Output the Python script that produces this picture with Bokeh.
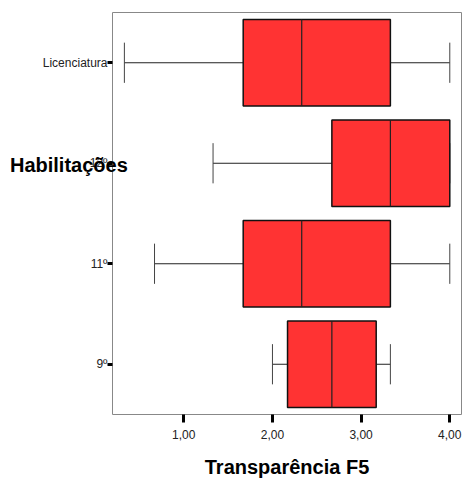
from bokeh.plotting import figure
from bokeh.models import FixedTicker, Range1d
from bokeh.embed import file_html
from bokeh.resources import INLINE

categories = ["9º", "11º", "12º", "Licenciatura"]
lower_whisker = [2.00, 0.67, 1.33, 0.33]
q1 = [2.17, 1.67, 2.67, 1.67]
median = [2.67, 2.33, 3.33, 2.33]
q3 = [3.17, 3.33, 4.00, 3.33]
upper_whisker = [3.33, 4.00, 4.00, 4.00]
x_ticks = [1, 2, 3, 4]
x_tick_labels = ["1,00", "2,00", "3,00", "4,00"]

ys = [i + 0.5 for i in range(len(categories))]
box_h = 0.86
cap_h = 0.4

p = figure(width=464, height=480, output_backend="svg", toolbar_location=None,
           x_range=Range1d(0.196, 4.132), y_range=Range1d(0, len(categories)),
           min_border_left=112, min_border_right=3, min_border_top=12, min_border_bottom=63)
p.background_fill_color = "white"
p.border_fill_color = "white"
p.outline_line_color = "#888888"
p.outline_line_width = 1
p.xgrid.visible = False
p.ygrid.visible = False

# whiskers
p.segment(x0=lower_whisker, y0=ys, x1=q1, y1=ys, line_color="#222222", line_width=1)
p.segment(x0=q3, y0=ys, x1=upper_whisker, y1=ys, line_color="#222222", line_width=1)
p.segment(x0=lower_whisker, y0=[y - cap_h / 2 for y in ys], x1=lower_whisker,
          y1=[y + cap_h / 2 for y in ys], line_color="#444444", line_width=1)
p.segment(x0=upper_whisker, y0=[y - cap_h / 2 for y in ys], x1=upper_whisker,
          y1=[y + cap_h / 2 for y in ys], line_color="#444444", line_width=1)
# boxes
p.hbar(y=ys, left=q1, right=q3, height=box_h, fill_color="#FF3333",
       line_color="#111111", line_width=1.5)
p.segment(x0=median, y0=[y - box_h / 2 for y in ys], x1=median,
          y1=[y + box_h / 2 for y in ys], line_color="#222222", line_width=1.2)

xa = p.xaxis[0]
xa.ticker = FixedTicker(ticks=x_ticks)
xa.major_label_overrides = {t: l for t, l in zip(x_ticks, x_tick_labels)}
xa.minor_tick_line_color = None
xa.major_tick_in = 0
xa.major_tick_out = 8
xa.major_tick_line_width = 3
xa.major_tick_line_color = "black"
xa.axis_line_color = None
xa.major_label_text_font = "Liberation Sans"
xa.major_label_text_font_size = "12px"
xa.major_label_text_color = "#222222"
xa.major_label_standoff = 7
xa.axis_label = "Transparência F5"
xa.axis_label_text_font = "Liberation Sans"
xa.axis_label_text_font_style = "bold"
xa.axis_label_text_font_size = "20px"
xa.axis_label_text_color = "black"
xa.axis_label_standoff = 14

ya = p.yaxis[0]
ya.ticker = FixedTicker(ticks=ys)
ya.major_label_overrides = {y: c for y, c in zip(ys, categories)}
ya.minor_tick_line_color = None
ya.major_tick_in = 0
ya.major_tick_out = 5
ya.major_tick_line_width = 3
ya.major_tick_line_color = "black"
ya.axis_line_color = None
ya.major_label_text_font = "Liberation Sans"
ya.major_label_text_font_size = "12px"
ya.major_label_text_color = "#222222"
ya.major_label_standoff = 0
ya.axis_label = "Habilitações\n\n\n\n"
ya.axis_label_orientation = "horizontal"
ya.axis_label_text_font = "Liberation Sans"
ya.axis_label_text_font_style = "bold"
ya.axis_label_text_font_size = "20px"
ya.axis_label_text_color = "black"
ya.axis_label_text_line_height = 1.1
ya.axis_label_standoff = -88

open("out.html", "w").write(file_html(p, INLINE))
